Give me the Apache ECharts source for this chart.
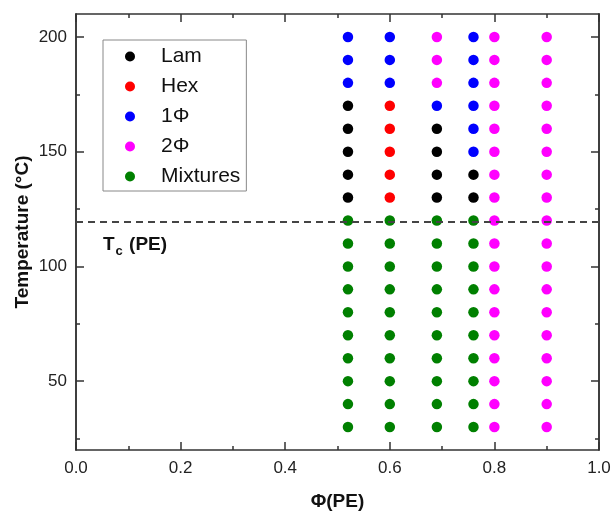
<!DOCTYPE html>
<html><head><meta charset="utf-8">
<script src="https://cdn.jsdelivr.net/npm/echarts@6/dist/echarts.min.js"></script>
<style>html,body{margin:0;padding:0;background:#fff}#c{width:611px;height:514px}</style>
</head><body><div id="c"></div>
<script>
// ---- data ----
const seriesNames = ['Lam', 'Hex', '1\u03A6', '2\u03A6', 'Mixtures'];
const seriesColors = ['#000000', '#ff0000', '#0000ff', '#ff00ff', '#008000'];

const lamPoints = [
  [0.52,170],[0.52,160],[0.52,150],[0.52,140],[0.52,130],
  [0.69,160],[0.69,150],[0.69,140],[0.69,130],
  [0.76,140],[0.76,130]
];
const hexPoints = [
  [0.60,170],[0.60,160],[0.60,150],[0.60,140],[0.60,130]
];
const onePhiPoints = [
  [0.52,200],[0.52,190],[0.52,180],
  [0.60,200],[0.60,190],[0.60,180],
  [0.69,170],
  [0.76,200],[0.76,190],[0.76,180],[0.76,170],[0.76,160],[0.76,150]
];
const twoPhiPoints = [
  [0.69,200],[0.69,190],[0.69,180],
  [0.80,200],[0.80,190],[0.80,180],[0.80,170],[0.80,160],[0.80,150],[0.80,140],[0.80,130],[0.80,120],
  [0.80,110],[0.80,100],[0.80,90],[0.80,80],[0.80,70],[0.80,60],[0.80,50],[0.80,40],[0.80,30],
  [0.90,200],[0.90,190],[0.90,180],[0.90,170],[0.90,160],[0.90,150],[0.90,140],[0.90,130],[0.90,120],
  [0.90,110],[0.90,100],[0.90,90],[0.90,80],[0.90,70],[0.90,60],[0.90,50],[0.90,40],[0.90,30]
];
const mixturePoints = [
  [0.52,120],[0.52,110],[0.52,100],[0.52,90],[0.52,80],[0.52,70],[0.52,60],[0.52,50],[0.52,40],[0.52,30],
  [0.60,120],[0.60,110],[0.60,100],[0.60,90],[0.60,80],[0.60,70],[0.60,60],[0.60,50],[0.60,40],[0.60,30],
  [0.69,120],[0.69,110],[0.69,100],[0.69,90],[0.69,80],[0.69,70],[0.69,60],[0.69,50],[0.69,40],[0.69,30],
  [0.76,120],[0.76,110],[0.76,100],[0.76,90],[0.76,80],[0.76,70],[0.76,60],[0.76,50],[0.76,40],[0.76,30]
];
const tcPE = 119.5;

const xRange = [0, 1];
const xStep = 0.2;
const yRange = [20, 210];
const yMajorTicks = [50, 100, 150, 200];
const yMinorTicks = [25, 75, 125, 175];

// ---- chart ----
const FONT = '"Liberation Sans", Arial, sans-serif';
const AX = '#333';
const lineSty = { color: AX, width: 1.5 };
const chart = echarts.init(document.getElementById('c'));

function xAx(pos, withLabels) {
  return {
    type: 'value', position: pos, min: xRange[0], max: xRange[1], interval: xStep,
    axisLine: { show: true, onZero: false, lineStyle: lineSty },
    axisTick: { show: true, inside: true, length: 8, lineStyle: lineSty },
    minorTick: { show: true, splitNumber: 2, length: 4, lineStyle: lineSty },
    splitLine: { show: false },
    axisLabel: withLabels ? { show: true, fontSize: 17, color: '#222', margin: 10, fontFamily: FONT,
      formatter: v => v.toFixed(1) } : { show: false },
    name: withLabels ? '\u03A6(PE)' : '',
    nameLocation: 'middle', nameGap: 42, nameMoveOverlap: false,
    nameTextStyle: { fontSize: 19, fontWeight: 'bold', color: '#111', fontFamily: FONT }
  };
}
function yAx(pos, ticks, len, withLabels) {
  return {
    type: 'value', position: pos, min: yRange[0], max: yRange[1],
    axisLine: { show: true, onZero: false, lineStyle: lineSty },
    axisTick: { show: true, inside: true, length: len, customValues: ticks, lineStyle: lineSty },
    splitLine: { show: false },
    axisLabel: withLabels ? { show: true, customValues: ticks, fontSize: 17, color: '#222', margin: 9, fontFamily: FONT }
                          : { show: false },
    name: withLabels ? 'Temperature (\u00B0C)' : '',
    nameLocation: 'middle', nameGap: 44, nameMoveOverlap: false,
    nameTextStyle: { fontSize: 19, fontWeight: 'bold', color: '#111', fontFamily: FONT }
  };
}

const pointSets = [lamPoints, hexPoints, onePhiPoints, twoPhiPoints, mixturePoints];
const series = seriesNames.map((n, i) => ({
  name: n, type: 'scatter', xAxisIndex: 0, yAxisIndex: 0,
  symbol: 'circle', symbolSize: 10.5,
  itemStyle: { color: seriesColors[i], opacity: 1 },
  data: pointSets[i]
}));
series[4].markLine = {
  silent: true, symbol: ['none', 'none'], animation: false,
  lineStyle: { type: [7, 5], color: '#444', width: 2 },
  data: [{ yAxis: tcPE }],
  label: {
    show: true, position: 'insideStartBottom', distance: [27, 11],
    formatter: '{t|T}{s|c}{t| (PE)}',
    rich: {
      t: { fontSize: 19, fontWeight: 'bold', color: '#111', fontFamily: FONT },
      s: { fontSize: 13, fontWeight: 'bold', color: '#111', fontFamily: FONT, padding: [12, 1, 0, 1] }
    }
  }
};

chart.setOption({
  animation: false,
  textStyle: { fontFamily: FONT },
  grid: { left: 76, right: 12, top: 14, bottom: 64, containLabel: false, outerBoundsMode: 'none' },
  legend: {
    data: seriesNames, orient: 'vertical', left: 103, top: 40,
    itemWidth: 52, itemHeight: 10, itemGap: 9,
    padding: [6, 6, 4, 22],
    borderColor: '#888', borderWidth: 1,
    textStyle: { fontSize: 21, color: '#111', fontFamily: FONT },
    selectedMode: false
  },
  xAxis: [xAx('bottom', true), xAx('top', false)],
  yAxis: [
    yAx('left', yMajorTicks, 8, true),
    yAx('left', yMinorTicks, 4, false),
    yAx('right', yMajorTicks, 8, false),
    yAx('right', yMinorTicks, 4, false)
  ],
  series: series
});
</script>
</body></html>
